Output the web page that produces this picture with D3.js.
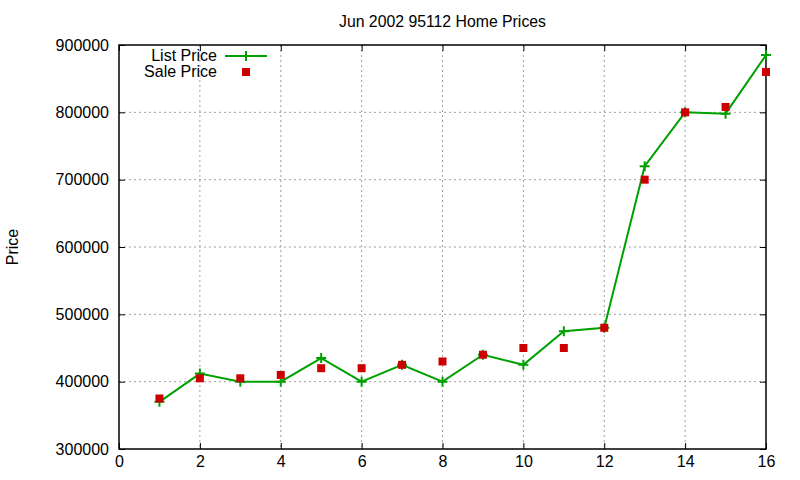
<!DOCTYPE html>
<html lang="en">
  <head>
    <script src="https://d3js.org/d3.v7.min.js"></script>
    <meta charset="utf-8"/>
    <title>Jun 2002 95112 Home Prices</title>
    <style>
      body { margin: 0; background: #fff; }
      text { font-family: "Liberation Sans", Arial, sans-serif; fill: #000; }
      .grid line { stroke: #a0a0a0; stroke-width: 1; stroke-dasharray: 2,3; }
    </style>
  </head>
  <body>
    <svg id="chart"></svg>
    <script>
      const width = 800;
      const height = 480;

      // data
      const houses = [1, 2, 3, 4, 5, 6, 7, 8, 9, 10, 11, 12, 13, 14, 15, 16];
      const listPrice = [370000, 412000, 400000, 400000, 435000, 400000, 425000, 400000,
                         440000, 425000, 475000, 480000, 720000, 800000, 798000, 885000];
      const salePrice = [375000, 405000, 405000, 410000, 420000, 420000, 425000, 430000,
                         440000, 450000, 450000, 480000, 700000, 800000, 808000, 860000];
      const xTicks = [0, 2, 4, 6, 8, 10, 12, 14, 16];
      const yTicks = [300000, 400000, 500000, 600000, 700000, 800000, 900000];

      const plotL = 119, plotR = 766, plotT = 45, plotB = 449;
      const green = "#00a000";
      const red = "#cc0000";

      const svg = d3.select("#chart")
        .attr("width", width)
        .attr("height", height);

      const x = d3.scaleLinear().domain([0, 16]).range([plotL, plotR]);
      const y = d3.scaleLinear().domain([300000, 900000]).range([plotB, plotT]);

      // grid
      const grid = svg.append("g").attr("class", "grid");
      grid.selectAll(".gx")
        .data(xTicks.slice(1, -1))
        .enter().append("line")
        .attr("x1", d => x(d)).attr("x2", d => x(d))
        .attr("y1", plotT).attr("y2", plotB);
      grid.selectAll(".gy")
        .data(yTicks.slice(1, -1))
        .enter().append("line")
        .attr("x1", plotL).attr("x2", plotR)
        .attr("y1", d => y(d)).attr("y2", d => y(d));

      // axes, ticks inside and mirrored like gnuplot
      const tickLen = 6;
      svg.append("g")
        .attr("transform", "translate(0," + plotB + ")")
        .call(d3.axisBottom(x).tickValues(xTicks).tickSize(-tickLen).tickPadding(7))
        .call(g => g.select(".domain").remove())
        .call(g => g.selectAll("text").style("font-size", "16px"));
      svg.append("g")
        .attr("transform", "translate(0," + plotT + ")")
        .call(d3.axisTop(x).tickValues(xTicks).tickSize(-tickLen).tickFormat(""))
        .call(g => g.select(".domain").remove());
      svg.append("g")
        .attr("transform", "translate(" + plotL + ",0)")
        .call(d3.axisLeft(y).tickValues(yTicks).tickSize(-tickLen).tickPadding(10).tickFormat(d3.format("d")))
        .call(g => g.select(".domain").remove())
        .call(g => g.selectAll("text").style("font-size", "16px"));
      svg.append("g")
        .attr("transform", "translate(" + plotR + ",0)")
        .call(d3.axisRight(y).tickValues(yTicks).tickSize(-tickLen).tickFormat(""))
        .call(g => g.select(".domain").remove());
      svg.selectAll(".tick line").attr("stroke", "#000");

      svg.append("rect")
        .attr("x", plotL).attr("y", plotT)
        .attr("width", plotR - plotL).attr("height", plotB - plotT)
        .attr("fill", "none").attr("stroke", "#000").attr("stroke-width", 1.5);

      // title and y label
      svg.append("text")
        .attr("x", (plotL + plotR) / 2).attr("y", 27)
        .attr("text-anchor", "middle")
        .style("font-size", "15.8px")
        .text("Jun 2002 95112 Home Prices");
      svg.append("text")
        .attr("transform", "translate(18,247) rotate(-90)")
        .attr("text-anchor", "middle")
        .style("font-size", "16px")
        .text("Price");

      // list price line
      const line = d3.line()
        .x((d, i) => x(houses[i]))
        .y(d => y(d));
      svg.append("path")
        .datum(listPrice)
        .attr("d", line)
        .attr("fill", "none")
        .attr("stroke", green)
        .attr("stroke-width", 2);

      function plus(sel, cx, cy) {
        sel.append("path")
          .attr("d", "M" + (cx - 5) + "," + cy + "H" + (cx + 5) + "M" + cx + "," + (cy - 5) + "V" + (cy + 5))
          .attr("stroke", green)
          .attr("stroke-width", 2);
      }
      listPrice.forEach((d, i) => plus(svg, x(houses[i]), y(d)));

      // sale price squares
      svg.selectAll(".sale")
        .data(salePrice)
        .enter().append("rect")
        .attr("class", "sale")
        .attr("x", (d, i) => x(houses[i]) - 4)
        .attr("y", d => y(d) - 4)
        .attr("width", 8).attr("height", 8)
        .attr("fill", red);

      // legend
      const legend = svg.append("g");
      legend.append("text")
        .attr("x", 217).attr("y", 61)
        .attr("text-anchor", "end")
        .style("font-size", "16px")
        .text("List Price");
      legend.append("line")
        .attr("x1", 225).attr("x2", 267)
        .attr("y1", 56).attr("y2", 56)
        .attr("stroke", green).attr("stroke-width", 2);
      plus(legend, 246, 56);
      legend.append("text")
        .attr("x", 217).attr("y", 77)
        .attr("text-anchor", "end")
        .style("font-size", "16px")
        .text("Sale Price");
      legend.append("rect")
        .attr("x", 242).attr("y", 68)
        .attr("width", 8).attr("height", 8)
        .attr("fill", red);
    </script>
  </body>
</html>
